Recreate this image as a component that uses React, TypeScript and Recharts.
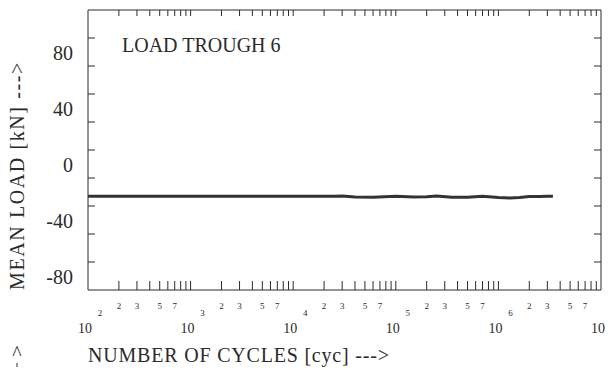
import { LineChart, Line, XAxis, YAxis, ReferenceArea } from "recharts";

const cycles = [
  100, 1000, 10000, 25000, 30000, 40000, 60000, 100000, 150000, 200000,
  250000, 350000, 500000, 700000, 1000000, 1300000, 1600000, 2000000,
  2500000, 3000000, 3400000,
];
const meanLoad = [
  -13, -13, -13, -13, -12.8, -13.6, -13.7, -13, -13.5, -13.4, -12.9, -13.8,
  -13.7, -13.1, -14, -14.3, -14, -13.3, -13.2, -13, -13,
];

const yTicks = [-80, -60, -40, -20, 0, 20, 40, 60, 80, 100, 120];
const yLabels = [80, 40, 0, -40, -80];
const decades = [100, 1000, 10000, 100000, 1000000, 10000000];
const minorSteps = [2, 3, 4, 5, 6, 7, 8, 9];
const minorLabels = [2, 3, 5, 7];

const xTicks = decades.flatMap((d, i) =>
  i < decades.length - 1 ? [d, ...minorSteps.map((m) => d * m)] : [d]
);

const data = cycles.map((c, i) => ({ cycles: c, load: meanLoad[i] }));

const FONT = '"Liberation Serif", "DejaVu Serif", serif';
const INK = "#2b2b2b";
const X_MIN = 100;
const X_MAX = 10000000;

const splitValue = (v: number) => {
  const exp = Math.floor(Math.log10(v) + 1e-9);
  const lead = Math.round(v / Math.pow(10, exp));
  return { exp, lead };
};

const BottomTick = (props: any) => {
  const { x, y, payload } = props;
  const v = payload.value;
  const { exp, lead } = splitValue(v);
  const edge = v === X_MIN || v === X_MAX;
  return (
    <g fontFamily={FONT} fill={INK}>
      {!edge && <line x1={x} y1={y} x2={x} y2={y - 9} stroke={INK} strokeWidth={1} />}
      {lead === 1 && (
        <>
          <text x={x - 3} y={y + 43} fontSize={14} textAnchor="middle">
            10
          </text>
          {exp < 7 && (
            <text x={x + 12} y={y + 26} fontSize={9} textAnchor="middle">
              {exp}
            </text>
          )}
        </>
      )}
      {minorLabels.includes(lead) && (
        <text x={x} y={y + 19} fontSize={9} textAnchor="middle">
          {lead}
        </text>
      )}
    </g>
  );
};

const TopTick = (props: any) => {
  const { x, y, payload } = props;
  const v = payload.value;
  if (v === X_MIN || v === X_MAX) return <g />;
  return <line x1={x} y1={y} x2={x} y2={y + 6} stroke={INK} strokeWidth={1} />;
};

const LeftTick = (props: any) => {
  const { x, y, payload } = props;
  const v = payload.value;
  const edge = v === -80 || v === 120;
  return (
    <g>
      {!edge && <line x1={x} y1={y} x2={x + 7} y2={y} stroke={INK} strokeWidth={1} />}
      {yLabels.includes(v) && (
        <text
          x={x - 15}
          y={y - 6}
          fontSize={20}
          fontFamily={FONT}
          fill={INK}
          textAnchor="end"
        >
          {v}
        </text>
      )}
    </g>
  );
};

const RightTick = (props: any) => {
  const { x, y, payload } = props;
  const v = payload.value;
  if (v === -80 || v === 120) return <g />;
  return <line x1={x} y1={y} x2={x - 7} y2={y} stroke={INK} strokeWidth={1} />;
};

export default function App() {
  return (
    <div style={{ position: "absolute", left: 0, top: 0, width: 610, height: 370, background: "#fff" }}>
      <LineChart
        width={610}
        height={370}
        data={data}
        margin={{ top: 9, right: 8, bottom: 79, left: 87 }}
      >
        <XAxis
          dataKey="cycles"
          type="number"
          scale="log"
          domain={[X_MIN, X_MAX]}
          allowDataOverflow
          ticks={xTicks}
          interval={0}
          height={1}
          tickSize={0}
          tickMargin={0}
          axisLine={false}
          tickLine={false}
          tick={BottomTick}
        />
        <XAxis
          xAxisId="top"
          orientation="top"
          dataKey="cycles"
          type="number"
          scale="log"
          domain={[X_MIN, X_MAX]}
          allowDataOverflow
          ticks={xTicks}
          interval={0}
          height={1}
          tickSize={0}
          tickMargin={0}
          axisLine={false}
          tickLine={false}
          tick={TopTick}
        />
        <YAxis
          type="number"
          domain={[-80, 120]}
          allowDataOverflow
          ticks={yTicks}
          interval={0}
          width={1}
          tickSize={0}
          tickMargin={0}
          axisLine={false}
          tickLine={false}
          tick={LeftTick}
        />
        <YAxis
          yAxisId="right"
          orientation="right"
          type="number"
          domain={[-80, 120]}
          allowDataOverflow
          ticks={yTicks}
          interval={0}
          width={1}
          tickSize={0}
          tickMargin={0}
          axisLine={false}
          tickLine={false}
          tick={RightTick}
        />
        <ReferenceArea
          x1={X_MIN}
          x2={X_MAX}
          y1={-80}
          y2={120}
          fill="none"
          stroke={INK}
          strokeWidth={1}
        />
        <Line
          dataKey="load"
          stroke="#333"
          strokeWidth={3}
          dot={false}
          isAnimationActive={false}
        />
      </LineChart>
      <svg
        width={610}
        height={370}
        style={{ position: "absolute", left: 0, top: 0, pointerEvents: "none" }}
        fontFamily={FONT}
        fill={INK}
      >
        <text x={122} y={52} fontSize={20}>
          LOAD TROUGH 6
        </text>
        <text x={88} y={362} fontSize={20} letterSpacing={0.8}>
          NUMBER OF CYCLES [cyc] ---&gt;
        </text>
        <text transform="translate(24, 290) rotate(-90)" fontSize={20} letterSpacing={1.6}>
          MEAN LOAD [kN] ---&gt;
        </text>
        <text x={17} y={360} fontSize={20} textAnchor="middle">
          ^
        </text>
        <line x1={17} y1={363} x2={17} y2={367} stroke={INK} strokeWidth={1} />
      </svg>
    </div>
  );
}
